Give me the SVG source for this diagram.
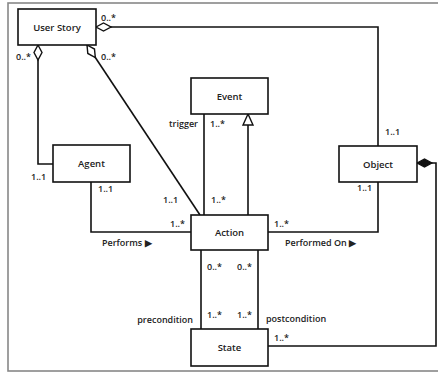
<svg xmlns="http://www.w3.org/2000/svg" width="438" height="372" viewBox="0 0 438 372">
  <style>
    .box { fill: #fff; stroke: #111; stroke-width: 1.6; }
    .edge { fill: none; stroke: #111; stroke-width: 1.6; }
    .name { font-family: "Open Sans", "Noto Sans", sans-serif; font-size: 9.5px; font-weight: 600; fill: #222; text-anchor: middle; dominant-baseline: central; }
    .lbl { font-family: "Open Sans", "Noto Sans", sans-serif; font-size: 9px; font-weight: 600; fill: #222; }
    .end { text-anchor: end; }
  </style>
  <defs>
    <marker id="aggregation" markerUnits="userSpaceOnUse" markerWidth="16" markerHeight="10" refX="0" refY="0" orient="auto" overflow="visible">
      <path d="M0,0 L7.5,-4 L15,0 L7.5,4 Z" fill="#fff" stroke="#111" stroke-width="1.4"/>
    </marker>
    <marker id="composition" markerUnits="userSpaceOnUse" markerWidth="16" markerHeight="10" refX="0" refY="0" orient="auto" overflow="visible">
      <path d="M0,0 L7.5,-4 L15,0 L7.5,4 Z" fill="#111" stroke="#111" stroke-width="1.2"/>
    </marker>
    <marker id="generalization" markerUnits="userSpaceOnUse" markerWidth="14" markerHeight="12" refX="0" refY="0" orient="auto" overflow="visible">
      <path d="M0,0 L-11,-5 L-11,5 Z" fill="#fff" stroke="#111" stroke-width="1.4"/>
    </marker>
  </defs>

  <!-- frame -->
  <rect x="8" y="3" width="440" height="368" fill="#fff" stroke="#888" stroke-width="1.6"/>

  <g id="connectors">
    <!-- User Story aggregates Object -->
    <path class="edge" d="M96,27 H378 V146" marker-start="url(#aggregation)"/>
    <!-- User Story aggregates Agent -->
    <path class="edge" d="M38,45 V164 H53" marker-start="url(#aggregation)"/>
    <!-- User Story aggregates Action -->
    <path class="edge" d="M87,45 L200,215" marker-start="url(#aggregation)"/>
    <!-- trigger -->
    <path class="edge" d="M204,114 V215"/>
    <!-- Action is an Event -->
    <path class="edge" d="M248,215 V114" marker-end="url(#generalization)"/>
    <!-- Performs -->
    <path class="edge" d="M91,182 V232 H191"/>
    <!-- Performed On -->
    <path class="edge" d="M268,232 H378 V182"/>
    <!-- precondition / postcondition -->
    <path class="edge" d="M201,250 V329"/>
    <path class="edge" d="M258,250 V329"/>
    <!-- Object composed of State -->
    <path class="edge" d="M417,163 H436 V346 H268" marker-start="url(#composition)"/>

    <!-- multiplicities and roles -->
    <text class="lbl" x="101" y="21">0..*</text>
    <text class="lbl" x="16" y="60">0..*</text>
    <text class="lbl" x="101" y="60">0..*</text>
    <text class="lbl end" x="198" y="127">trigger</text>
    <text class="lbl" x="210" y="127">1..*</text>
    <text class="lbl" x="385" y="135">1..1</text>
    <text class="lbl" x="31" y="180">1..1</text>
    <text class="lbl" x="98" y="192">1..1</text>
    <text class="lbl" x="357" y="191">1..1</text>
    <text class="lbl" x="163" y="203">1..1</text>
    <text class="lbl" x="211" y="203">1..*</text>
    <text class="lbl" x="170" y="227">1..*</text>
    <text class="lbl" x="274" y="227">1..*</text>
    <text class="lbl" x="102" y="246">Performs ▶</text>
    <text class="lbl" x="285" y="246">Performed On ▶</text>
    <text class="lbl" x="207" y="270">0..*</text>
    <text class="lbl" x="237" y="270">0..*</text>
    <text class="lbl" x="207" y="318">1..*</text>
    <text class="lbl" x="237" y="318">1..*</text>
    <text class="lbl end" x="193" y="323">precondition</text>
    <text class="lbl" x="266" y="322">postcondition</text>
    <text class="lbl" x="274" y="341">1..*</text>
  </g>

  <g id="user-story">
    <rect class="box" x="18" y="9" width="78" height="36"/>
    <text class="name" x="57" y="27">User Story</text>
  </g>
  <g id="event">
    <rect class="box" x="191" y="78" width="77" height="36"/>
    <text class="name" x="229.5" y="96">Event</text>
  </g>
  <g id="agent">
    <rect class="box" x="53" y="145" width="77" height="37"/>
    <text class="name" x="91.5" y="163.5">Agent</text>
  </g>
  <g id="object">
    <rect class="box" x="339" y="146" width="78" height="36"/>
    <text class="name" x="378" y="164">Object</text>
  </g>
  <g id="action">
    <rect class="box" x="191" y="215" width="77" height="35"/>
    <text class="name" x="229.5" y="232.5">Action</text>
  </g>
  <g id="state">
    <rect class="box" x="191" y="329" width="77" height="37"/>
    <text class="name" x="229.5" y="347.5">State</text>
  </g>
</svg>
